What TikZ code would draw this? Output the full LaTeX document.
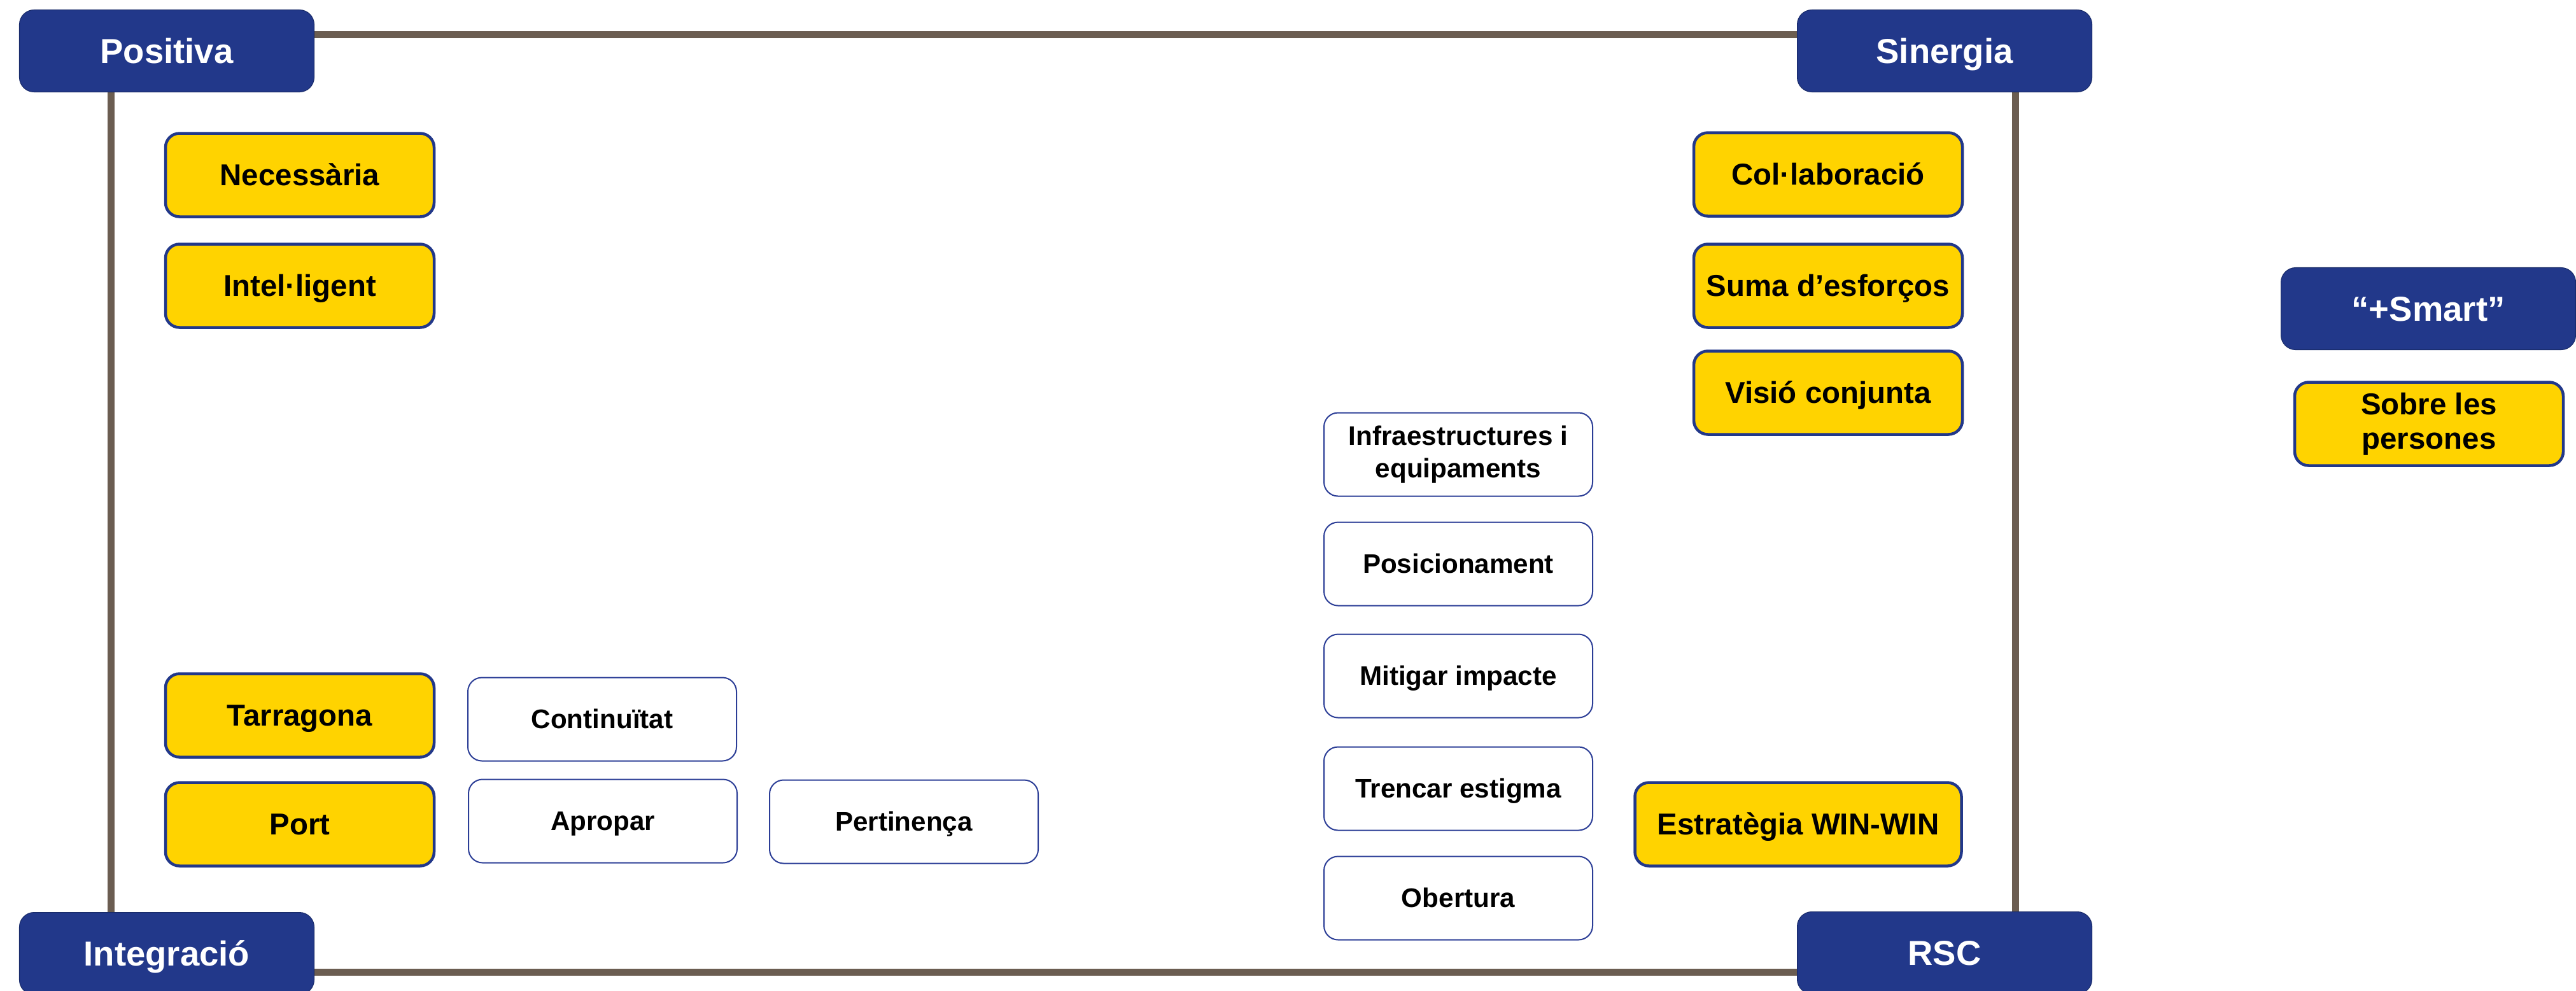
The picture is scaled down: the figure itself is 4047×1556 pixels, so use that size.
\documentclass[tikz,border=0pt]{standalone}
\usepackage{fontspec}
\setmainfont{Liberation Sans}
\definecolor{headblue}{HTML}{22388A}
\definecolor{headedge}{HTML}{182A68}
\definecolor{keyyellow}{HTML}{FFD300}
\definecolor{ideaedge}{HTML}{2B3D96}
\definecolor{framebrown}{HTML}{6B5D51}
\begin{document}
\begin{tikzpicture}[x=0.1mm, y=-0.1mm,
  headbox/.style={text height=14pt, text depth=3.1pt, rounded corners=2.3mm, fill=headblue, draw=headedge, line width=0.3pt, text=white,
    font=\bfseries\fontsize{15.5}{18}\selectfont, minimum width=46.3mm, minimum height=12.9mm, inner sep=0pt},
  keybox/.style={text height=12.2pt, text depth=2.7pt, rounded corners=2.2mm, fill=keyyellow, draw=headblue, line width=0.45mm,
    font=\bfseries\fontsize{13.5}{15.5}\selectfont, minimum width=42.2mm, minimum height=13.1mm, align=center, inner sep=0pt},
  ideabox/.style={text height=10.8pt, text depth=2.4pt, rounded corners=2.2mm, fill=white, draw=ideaedge, line width=0.2mm,
    font=\bfseries\fontsize{12}{14.5}\selectfont, minimum width=42.2mm, minimum height=13.1mm, align=center, inner sep=0pt},
  twolines/.style={text height=, text depth=},
  framerule/.style={draw=framebrown, line width=1.1mm}]
  \useasboundingbox (0,0) rectangle (4047,1556);
  \coordinate (nw) at (174,54);
  \coordinate (ne) at (3166,54);
  \coordinate (se) at (3166,1527);
  \coordinate (sw) at (174,1527);
  \draw[framerule] (nw) -- (ne) -- (se) -- (sw) -- cycle;
  \node[headbox] (positiva) at (262,80) {Positiva};
  \node[headbox] (sinergia) at (3055,80) {Sinergia};
  \node[headbox] (integracio) at (262,1498) {Integració};
  \node[headbox] (rsc) at (3055,1497) {RSC};
  \node[headbox] (smart) at (3815,485) {“+Smart”};
  \node[keybox, twolines] (persones) at (3816,666) {Sobre les\\persones};
  \node[keybox] (necessaria) at (471,275) {Necessària};
  \node[keybox] (intelligent) at (471,449) {Intel·ligent};
  \node[keybox] (tarragona) at (471,1124) {Tarragona};
  \node[keybox] (port) at (471,1295) {Port};
  \node[ideabox] (continuitat) at (946,1130) {Continuïtat};
  \node[ideabox] (apropar) at (947,1290) {Apropar};
  \node[ideabox] (pertinenca) at (1420,1291) {Pertinença};
  \node[ideabox, twolines] (infra) at (2291,714) {Infraestructures i\\equipaments};
  \node[ideabox] (posicio) at (2291,886) {Posicionament};
  \node[ideabox] (mitigar) at (2291,1062) {Mitigar impacte};
  \node[ideabox] (estigma) at (2291,1239) {Trencar estigma};
  \node[ideabox] (obertura) at (2291,1411) {Obertura};
  \node[keybox] (collab) at (2872,274) {Col·laboració};
  \node[keybox] (esforcos) at (2872,449) {Suma d’esforços};
  \node[keybox] (visio) at (2872,617) {Visió conjunta};
  \node[keybox, minimum width=51.3mm] (winwin) at (2825,1295) {Estratègia WIN-WIN};
\end{tikzpicture}
\end{document}
